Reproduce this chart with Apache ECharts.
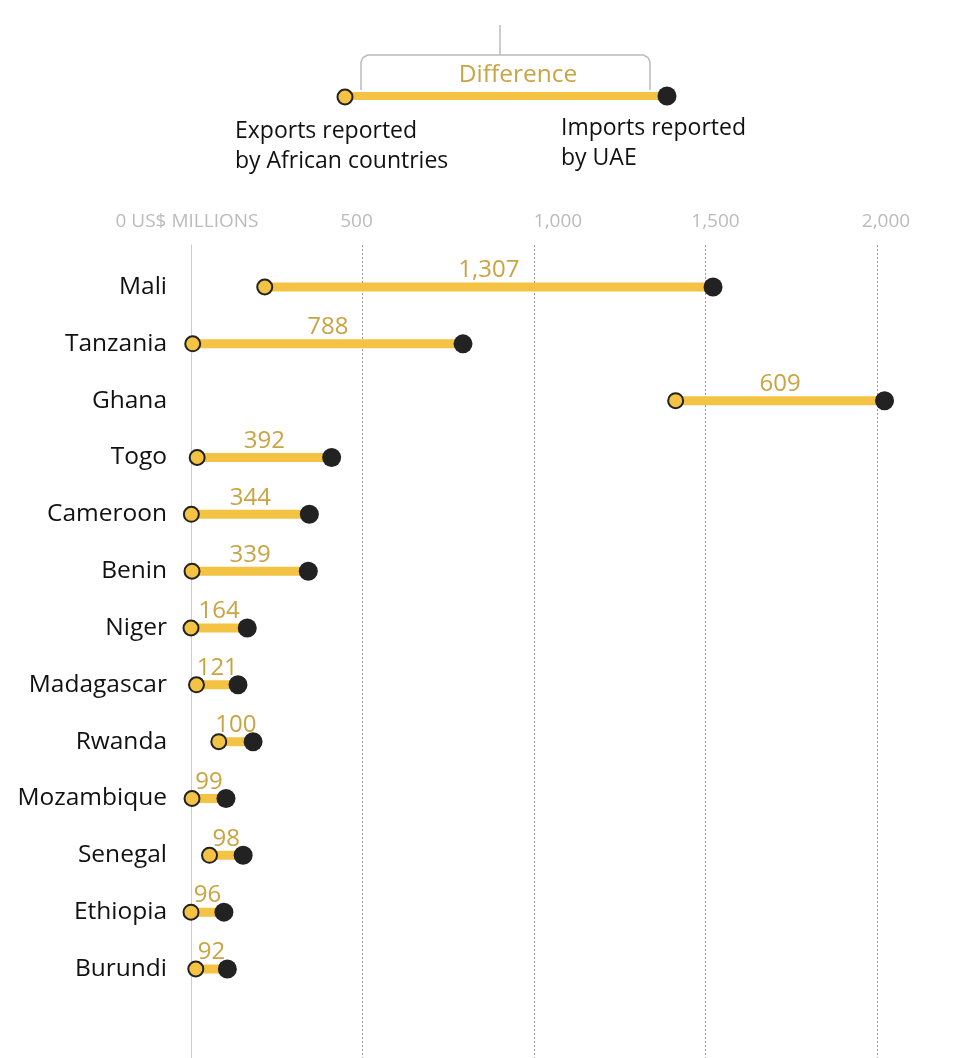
<!DOCTYPE html>
<html>
<head>
<meta charset="utf-8">
<script src="https://cdn.jsdelivr.net/npm/echarts@6/dist/echarts.min.js"></script>
<style>
html,body{margin:0;padding:0;background:#fff;}
#chart{width:976px;height:1058px;}
</style>
</head>
<body>
<div id="chart"></div>
<script>
const countries = ['Mali','Tanzania','Ghana','Togo','Cameroon','Benin','Niger','Madagascar','Rwanda','Mozambique','Senegal','Ethiopia','Burundi'];
const exportsAfrica = [215, 5, 1413, 18, 1, 3, 0, 16, 81, 3, 54, 0, 14];
const importsUAE = [1522, 793, 2022, 410, 345, 342, 164, 137, 181, 102, 152, 96, 106];
const differences = [1307, 788, 609, 392, 344, 339, 164, 121, 100, 99, 98, 96, 92];
const xTicks = [0, 500, 1000, 1500, 2000];
const xTickLabels = ['0 US$ MILLIONS', '500', '1,000', '1,500', '2,000'];

const FONT = '"Open Sans", "Noto Sans", sans-serif';
const YELLOW = '#F5C343';
const DARK = '#222222';
const GOLD = '#C9A443';

const chart = echarts.init(document.getElementById('chart'));

const data = countries.map((c, i) => [exportsAfrica[i], i, importsUAE[i], differences[i]]);

function fmt(v){ return v.toLocaleString('en-US'); }

const tickRich = {
  t0: { padding: [0, 8, 0, 0] },
  t1: { padding: [0, 12, 0, 0] },
  t2: { padding: [0, 0, 0, 48] },
  t3: { padding: [0, 0, 0, 20] },
  t4: { padding: [0, 0, 0, 18] }
};

const option = {
  backgroundColor: '#fff',
  animation: false,
  grid: [
    { left: 191, right: 99, top: 245, bottom: 0 },
    { left: 191, right: 99, top: 258.6, height: 738.8 }
  ],
  xAxis: [
    {
      gridIndex: 0, type: 'value', position: 'top', min: 0, max: 2000, interval: 500,
      axisLine: { show: false }, axisTick: { show: false },
      axisLabel: {
        margin: 14, color: '#BBBBBB', fontSize: 19, fontFamily: FONT,
        rich: Object.fromEntries(Object.entries(tickRich).map(([k, v]) => [k, Object.assign({ color: '#BBBBBB', fontSize: 19, fontFamily: FONT }, v)])),
        formatter: v => {
          const i = xTicks.indexOf(v);
          return i < 0 ? '' : '{t' + i + '|' + xTickLabels[i] + '}';
        }
      },
      splitLine: { show: true, lineStyle: { color: ['transparent', '#9A9A9A', '#9A9A9A', '#9A9A9A', '#9A9A9A'], type: [2, 2], width: 1 } }
    },
    {
      gridIndex: 1, type: 'value', min: 0, max: 2000, show: false
    }
  ],
  yAxis: [
    {
      gridIndex: 0, type: 'value', min: 0, max: 1,
      axisLine: { show: true, lineStyle: { color: '#CCCCCC', width: 1 } },
      axisTick: { show: false }, axisLabel: { show: false }, splitLine: { show: false }
    },
    {
      gridIndex: 1, type: 'category', data: countries, inverse: true,
      axisLine: { show: false }, axisTick: { show: false }, splitLine: { show: false },
      axisLabel: { margin: 24, color: '#111', fontSize: 24.5, fontFamily: FONT }
    }
  ],
  graphic: [
    { type: 'line', shape: { x1: 500, y1: 25, x2: 500, y2: 55 }, style: { stroke: '#BBBBBB', lineWidth: 1.5 } },
    { type: 'polyline', shape: { points: [[361, 90], [361, 62], [363, 57.5], [367.5, 55], [643.5, 55], [648, 57.5], [650, 62], [650, 90]] }, style: { stroke: '#BBBBBB', lineWidth: 1.5, fill: null } },
    { type: 'line', shape: { x1: 350, y1: 96, x2: 660, y2: 96 }, style: { stroke: YELLOW, lineWidth: 8 } },
    { type: 'circle', shape: { cx: 345, cy: 97, r: 7.5 }, style: { fill: YELLOW, stroke: DARK, lineWidth: 2 } },
    { type: 'circle', shape: { cx: 667, cy: 96, r: 9.5 }, style: { fill: DARK } },
    { type: 'text', style: { x: 518, y: 75, text: 'Difference', fill: GOLD, font: '24.5px ' + FONT, align: 'center', verticalAlign: 'middle' } },
    { type: 'text', style: { x: 235, y: 146, text: 'Exports reported\nby African countries', fill: '#111', font: '23px ' + FONT, align: 'left', verticalAlign: 'middle', lineHeight: 30 } },
    { type: 'text', style: { x: 561, y: 143, text: 'Imports reported\nby UAE', fill: '#111', font: '23px ' + FONT, align: 'left', verticalAlign: 'middle', lineHeight: 30 } }
  ],
  series: [
    { type: 'scatter', xAxisIndex: 0, yAxisIndex: 0, data: [], silent: true },
    {
      type: 'custom', xAxisIndex: 1, yAxisIndex: 1, clip: false,
      data: data,
      encode: { x: [0, 2], y: 1 },
      renderItem: function (params, api) {
        const idx = api.value(1);
        const p1 = api.coord([api.value(0), idx]);
        const p2 = api.coord([api.value(2), idx]);
        const diff = api.value(3);
        const mid = (p1[0] + p2[0]) / 2;
        return {
          type: 'group',
          children: [
            { type: 'line', shape: { x1: p1[0], y1: p1[1], x2: p2[0], y2: p2[1] }, style: { stroke: YELLOW, lineWidth: 9 } },
            { type: 'circle', shape: { cx: p1[0], cy: p1[1], r: 7.5 }, style: { fill: YELLOW, stroke: DARK, lineWidth: 2 } },
            { type: 'circle', shape: { cx: p2[0], cy: p2[1], r: 9.5 }, style: { fill: DARK } },
            { type: 'text', style: { x: mid, y: p1[1] - 16.5, text: fmt(diff), fill: GOLD, font: '24px ' + FONT, align: 'center', verticalAlign: 'middle' } }
          ]
        };
      }
    }
  ]
};
chart.setOption(option);
</script>
</body>
</html>
